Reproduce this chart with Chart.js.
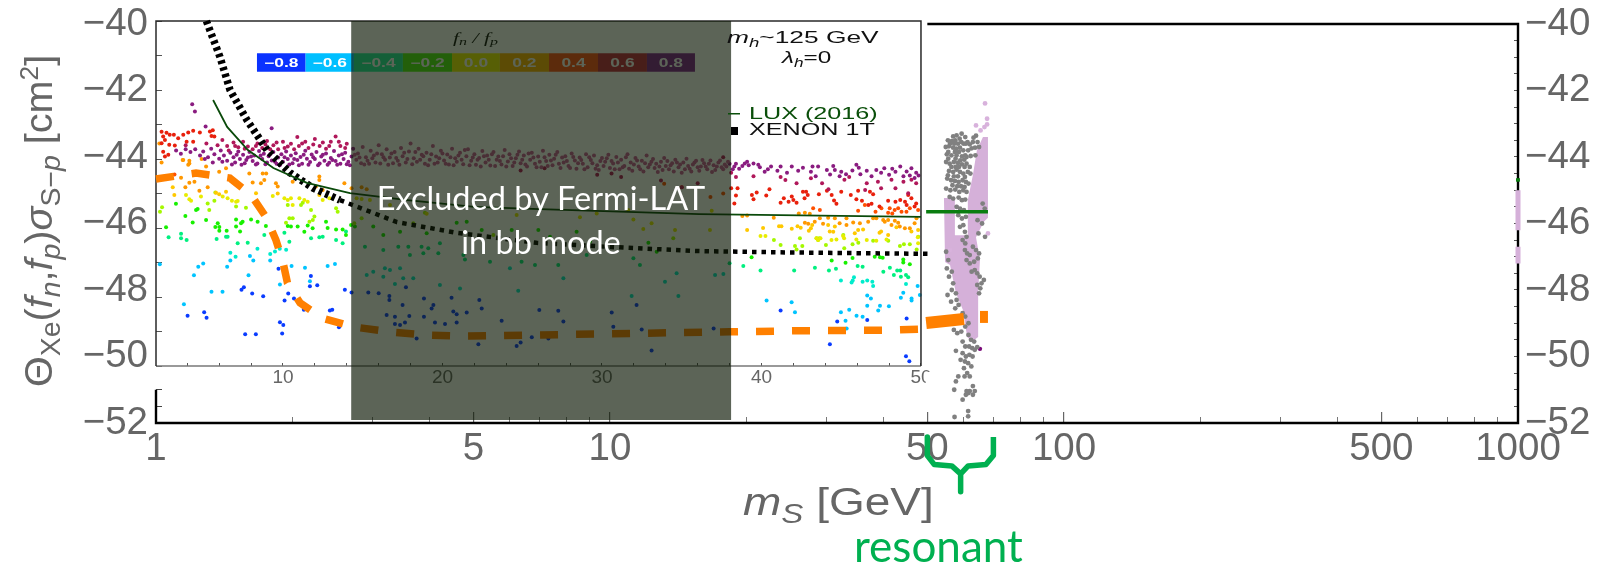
<!DOCTYPE html>
<html><head><meta charset="utf-8"><title>Direct detection limits</title>
<style>html,body{margin:0;background:#fff}canvas{display:block}</style>
<script src="https://cdn.jsdelivr.net/npm/chart.js@4"></script></head>
<body><canvas id="c" width="1597" height="567"></canvas>
<script>
// ---------- outer axis ----------
const xMajorTicks=[1,5,10,50,100,500,1000];
const xMinorTicks=[2,3,4,6,7,8,9,20,30,40,60,70,80,90,200,300,400,600,700,800,900];
const yTicksOuter=[-52,-51.5,-51,-50.5,-50,-49.5,-49,-48.5,-48,-47.5,-47,-46.5,-46,-45.5,-45,-44.5,-44,-43.5,-43,-42.5,-42,-41.5,-41,-40.5,-40];
// ---------- inset axis ----------
const xInsetTicks=[4,6,8,10,12,14,16,18,20,22,24,26,28,30,32,34,36,38,40,42,44,46,48,50];
const yInsetTicks=[-50,-49,-48,-47,-46,-45,-44,-43,-42,-41,-40];
// ---------- colour bar ----------
const barLabels=['−0.8','−0.6','−0.4','−0.2','0.0','0.2','0.4','0.6','0.8'];
const barEdges=[8.37,11.42,14.45,17.52,20.6,23.6,26.68,29.75,32.82,35.83];
const barColors=['#0a32ff','#00bfff','#20f0a0','#50f010','#f0f000','#ffb000','#ff5018','#c02840','#802090'];
const barLevel=-41.2;
// ---------- scatter (inset), flat x,y lists ----------
const purplePts=[4.31,-42.41,4.48,-42.62,5.15,-43.06,9.29,-43.11,3.3,-43.75,3.6,-43.85,3.9,-43.72,4.2,-43.8,4.5,-43.72,4.8,-43.9,5,-43.78,5.3,-43.95,5.5,-43.7,5.7,-43.86,6,-43.99,6.1,-43.75,6.3,-43.9,6.5,-44.05,6.7,-43.82,6.9,-43.95,7,-44.1,7.2,-43.78,7.3,-44,7.5,-43.88,7.6,-44.12,7.8,-43.96,7.9,-43.8,8.1,-44.06,8.2,-43.9,8.4,-44.13,8.5,-43.77,8.7,-44,8.8,-43.85,9,-44.1,9.1,-43.92,9.3,-44.04,9.4,-43.8,9.6,-44.14,9.7,-43.96,9.9,-43.86,10,-44.08,10.2,-43.78,10.3,-44,10.5,-43.9,10.6,-44.12,10.8,-43.83,10.9,-44.03,11.1,-43.94,11.2,-44.14,11.4,-43.76,11.5,-43.99,11.7,-44.09,11.8,-43.87,12,-44,12.1,-43.8,12.3,-44.13,12.4,-43.93,12.6,-44.05,12.7,-43.84,12.9,-44.11,13,-43.97,13.2,-43.77,13.3,-44.06,13.5,-43.9,13.6,-44.14,13.8,-44,13.9,-43.82,14.1,-44.08,14.3,-43.93,14.4,-43.7,14.6,-44.02,14.7,-43.84,14.9,-44.12,15,-43.65,15.2,-43.95,15.3,-44.05,15.5,-43.76,15.7,-43.9,15.8,-44.1,16,-43.6,16.2,-43.86,16.4,-44.02,16.5,-43.72,16.7,-43.96,16.9,-44.12,17,-43.8,17.2,-44.05,17.4,-43.68,17.5,-43.92,17.7,-44.1,17.9,-43.78,18,-43.55,18.2,-43.98,18.4,-44.08,18.5,-43.7,18.7,-43.88,18.9,-44.14,19,-43.82,19.2,-44.02,19.4,-43.62,19.6,-43.93,19.7,-44.1,19.9,-43.76,20.1,-44.04,20.3,-43.87,20.4,-44.16,20.6,-43.7,20.8,-43.98,20.9,-44.08,21.1,-43.82,21.3,-44.15,21.5,-43.92,21.6,-43.72,21.8,-44.05,22,-43.86,22.1,-44.17,22.3,-43.97,22.5,-43.77,22.7,-44.1,22.8,-43.9,23,-44.19,23.2,-43.8,23.4,-44.02,23.5,-43.93,23.7,-44.16,23.9,-43.74,24.1,-44.07,24.2,-43.86,24.4,-44.2,24.6,-43.98,24.8,-43.78,24.9,-44.12,25.1,-43.9,25.3,-44.22,25.5,-44.02,25.6,-43.82,25.8,-44.14,26,-43.93,26.2,-44.24,26.3,-43.76,26.5,-44.06,26.7,-43.88,26.9,-44.18,27,-43.99,27.2,-43.8,27.4,-44.26,27.6,-44.1,27.7,-43.92,27.9,-44.2,28.1,-43.84,28.3,-44.04,28.4,-44.28,28.6,-43.96,28.8,-44.14,29,-43.86,29.1,-44.24,29.3,-44.03,29.5,-43.9,29.7,-44.18,29.8,-44.32,30,-43.97,30.2,-44.08,30.4,-43.88,30.5,-44.26,30.7,-44.13,30.9,-43.94,31.1,-44.3,31.2,-44.02,31.4,-44.2,31.6,-43.86,31.8,-44.1,31.9,-44.34,32.1,-43.97,32.3,-44.22,32.5,-44.05,32.6,-44.36,32.8,-43.9,33,-44.16,33.2,-44,33.3,-44.26,33.5,-44.38,33.7,-44.08,33.9,-43.97,34,-44.2,34.2,-44.3,34.4,-44.12,34.6,-44.02,34.8,-44.24,35,-44.4,35.1,-44.1,35.3,-43.99,35.5,-44.28,35.7,-44.16,35.9,-44.05,36.1,-44.34,36.2,-44.22,36.4,-44.12,36.6,-44.3,36.8,-44.04,37,-44.18,37.1,-44.32,37.3,-44.1,37.5,-44.24,37.7,-44.16,37.9,-44.08,38.3,-44.22,38.6,-44.28,38.95,-44.13,39.2,-44.18,39.8,-44.17,40.2,-44.37,40.6,-44.22,41,-44.34,41.9,-44.22,42.3,-44.34,43.1,-44.37,43.2,-44.22,43.55,-44.22,44.1,-44.32,44.5,-44.2,44.6,-44.32,45,-44.37,45.95,-44.17,46.2,-44.44,46.6,-44.34,47.7,-44.27,48.4,-44.37,48.7,-44.22,49.4,-44.27,49.7,-44.4,49.1,-44.36,47.5,-44.4];
const purpleDense=[5.1,-44,5.6,-44.1,6.2,-44.08,6.8,-44.16,7.1,-43.88,7.4,-44.17,7.7,-44.03,8,-43.93,8.3,-44.16,8.6,-43.9,8.9,-44.15,9.2,-43.86,9.5,-44.08,9.8,-44.18,10.1,-43.95,10.4,-44.16,10.7,-44,11,-44.18,11.3,-43.88,11.6,-44.17,11.9,-43.95,12.2,-44.18,12.5,-43.88,12.8,-44.17,13.1,-44.03,13.4,-44.17,13.7,-43.86,14,-44.15,14.2,-44.18,14.5,-43.88,14.8,-43.96,15.1,-44.16,15.4,-44.14,15.6,-43.98,15.9,-43.84,16.1,-44.13,16.3,-43.95,16.6,-44.17,16.8,-43.84,17.1,-43.97,17.3,-44.17,17.6,-43.82,17.8,-44,18.1,-44.15,18.3,-43.8,18.6,-44.02,18.8,-43.92,19.1,-44.18,19.3,-43.86,19.5,-44.14,19.8,-43.98,20,-43.84,20.2,-44.14,20.5,-43.95,20.7,-44.18,21,-43.9,21.2,-44.02,21.4,-43.74,21.7,-44.18,21.9,-43.96,22.2,-44.02,22.4,-44.22,22.6,-43.92,22.9,-44.02,23.1,-43.86,23.3,-44.2,23.6,-44.06,23.8,-43.92,24,-44.22,24.3,-43.98,24.5,-44.1,24.7,-43.88,25,-44.02,25.2,-44.16,25.4,-43.84,25.7,-43.96,25.9,-44.24,26.1,-44.08,26.4,-43.95,26.6,-44.2,26.8,-44.04,27.1,-43.88,27.3,-44.14,27.5,-43.96,27.8,-44.06,28,-44.26,28.2,-43.94,28.5,-44.12,28.7,-44.03,28.9,-44.3,29.2,-43.95,29.4,-44.12,29.6,-44.28,29.9,-44.06,30.1,-44.2,30.3,-43.98,30.6,-44.06,30.8,-44.3,31,-44.1,31.3,-44.24,31.5,-43.95,31.7,-44.28,32,-44.16,32.2,-44.04,32.4,-44.3,32.7,-44.12,32.9,-44.24,33.1,-44.08,33.4,-44.14,33.6,-44.22,33.8,-44.32,34.1,-44.06,34.3,-44.18,34.5,-44.36,34.7,-44.1,34.9,-44.16,35.2,-44.3,35.4,-44.2,35.6,-44.36,35.8,-44.1,36,-44.24,36.3,-44.03,36.5,-44.22,36.7,-44.14,36.9,-44.38,37.2,-44.22,37.4,-44.04,37.6,-44.3,37.8,-44.22,38,-44.14,38.2,-44.3,38.4,-44.14,38.8,-44.2,39.1,-44.08,39.5,-44.13,39.9,-44.24,40.4,-44.3,41.2,-44.22,41.6,-44.4,42.6,-44.25,43.4,-44.5,44.3,-44.45,44.9,-44.5,45.3,-44.44,45.7,-44.33,46.1,-44.25,46.9,-44.5,47.2,-44.32,48,-44.46,48.2,-44.28,48.9,-44.5,49.3,-44.48,49.6,-44.55,49.85,-44.48];
const magentaPts=[3.9,-43.6,5.2,-43.55,5.9,-43.6,6.2,-43.45,6.5,-43.62,6.9,-43.52,7.2,-43.66,7.5,-43.5,7.8,-43.64,8.1,-43.72,8.4,-43.55,8.7,-43.68,9.0,-43.48,9.4,-43.6,9.7,-43.72,10,-43.5,10.3,-43.64,10.7,-43.72,10.9,-43.36,11.2,-43.55,11.6,-43.68,12,-43.42,12.3,-43.62,12.7,-43.7,13,-43.5,13.3,-43.35,13.6,-43.62,14,-43.56,6.6,-43.75,7,-43.62,7.6,-43.7,8.3,-43.62,8.9,-43.58,9.2,-43.72,9.6,-43.52,10.1,-43.68,10.5,-43.56,11,-43.62,11.4,-43.5,11.9,-43.58,12.5,-43.52,12.9,-43.62,13.5,-43.5,13.9,-43.68,37.6,-43.95,38.1,-44.4,38.4,-44.52,39.5,-44.5,41.5,-44.61,41.2,-44.52,42.2,-44.7,43.1,-44.56,43.8,-44.7,44.2,-44.88,45.2,-44.6,45.5,-44.52,46.6,-44.7,47.3,-44.66,48.15,-44.6,48.4,-44.85,48.9,-44.66,49.4,-44.6,49.7,-44.7,49.2,-44.99,47.5,-44.85,46.5,-44.9,31.2,-44.52,33.7,-44.62,35,-44.82,36,-44.7,24.9,-44.33,26.4,-44.27,29.7,-44.46,30.6,-44.42];
const redPts=[2.39,-43.21,2.7,-43.24,2.49,-43.35,2.9,-43.3,3.16,-43.3,2.6,-43.45,3.43,-43.4,3.75,-43.3,4.06,-43.23,4.37,-43.18,4.79,-43.23,5.42,-43.2,5.6,-43.17,5.52,-43.33,5.7,-43.35,2.39,-43.54,2.87,-43.59,3.22,-43.61,3.96,-43.5,4.37,-43.5,2.49,-43.79,2.81,-43.88,2.6,-43.93,38.1,-44.85,38.5,-44.85,38.4,-45.06,39.4,-45.04,39.7,-44.97,39.5,-45.17,38.3,-45.29,40.3,-45.06,40.5,-44.88,41.4,-45.14,41.9,-45.09,42,-45.19,41.2,-45.27,41.7,-45.24,42.2,-45.27,42.6,-44.95,42.8,-44.95,42.9,-45.04,42.7,-45.14,43.6,-45.02,44.4,-45.04,44.1,-44.92,45,-44.95,44.55,-45.2,44.7,-45.3,46.06,-44.92,45.6,-45.04,45.95,-45.17,46.3,-45.21,46.8,-44.95,47,-45.02,46.7,-45.33,46.9,-45.3,47.4,-45.38,47.94,-45.21,48.4,-45.24,48.7,-45.19,49,-45.24,49.4,-45.14,49.1,-45.33,49.7,-45.29,49.2,-45.04,49.6,-45.38];
const orangeRedPts=[43.24,-45.43,43.66,-45.48,46.06,-45.5,47.15,-45.53,47.52,-45.43,48.04,-45.43,48.35,-45.48,48.57,-45.43,48.78,-45.53,49.09,-45.53,49.3,-45.43,49.82,-45.48,47.94,-45.56,46.48,-45.33,48.2,-45.58,36.8,-45.1,35,-44.82,37.6,-45.0,3.2,-44.45,33.9,-44.72];
const orangePts=[2.25,-43.55,2.39,-44.1,3.75,-44.03,4.06,-44.17,4.13,-44.13,4.13,-44.05,3.71,-44.03,4.9,-44,5.18,-44.22,6,-44.37,6.43,-44.27,7.89,-44.42,8.73,-44.42,8.95,-44.42,8.62,-44.7,8.83,-44.61,9.56,-44.7,9.67,-44.8,5.28,-44.82,3.61,-44.54,4.13,-44.69,4.45,-44.66,4.76,-44.92,3.88,-44.82,8.1,-44.68,12.28,-44.51,12.28,-44.61,10.61,-44.66,13.85,-44.7,12.07,-44.8,12.49,-44.9,14.93,-44.82,15.25,-44.88,14.3,-44.85,38.8,-45.65,39.1,-45.64,40.77,-45.7,42.34,-45.58,42.72,-45.56,43.03,-45.59,43.66,-45.72,44.18,-45.7,44.6,-45.72,45.33,-45.72,45.75,-45.84,46.17,-45.86,46.69,-45.82,47,-45.72,47.2,-45.72,47.63,-45.77,47.73,-45.82,47.94,-45.77,48.36,-45.79,48.15,-45.91,48.57,-45.85,48.67,-45.96,48.99,-46.01,49.3,-46.01,49.72,-45.72,49.6,-45.86,42.72,-45.85,43.34,-45.82,42.93,-45.88,43.86,-45.88,44.9,-45.86,45.33,-45.91];
const amberPts=[39.1,-46.06,40.1,-46,41.1,-45.95,41.25,-45.95,41.9,-46.02,42.26,-45.95,42.46,-45.99,43.1,-46.01,42.97,-46.08,43.18,-45.91,44.18,-45.91,44.28,-46.1,44.5,-46.11,44.6,-45.96,46.06,-46.06,45.85,-46.15,46.37,-46.04,47.4,-46.14,47.5,-46.1,47.94,-46.2,48.46,-45.98,49.4,-46.1,49.82,-46.06,3.09,-44.82,3.19,-45.04,6.43,-44.95,5.8,-44.98,6,-45.02,8.31,-44.99,9.67,-45,12.28,-45.04];
const yellowPts=[4.13,-45.17,4.24,-45.21,4.86,-45.09,6.22,-45.09,6.53,-45.14,6.8,-45.21,7.06,-45.24,7.16,-45.22,9.36,-45.07,10.09,-45.14,10.3,-45.19,10.5,-45.14,10.61,-45.33,11.03,-45.14,11.34,-45.19,11.55,-45.24,12.49,-45.19,12.91,-45.14,3.92,-45.04,14.62,-45.14,14.93,-45.16,15.45,-45.19,16.71,-45.33,19.01,-45.59,24.65,-45.62,28.62,-45.69,31.97,-45.75,32.59,-46.03,34.58,-46.06,36.77,-46.06,36.88,-45.5,31.65,-45.48,33.11,-45.86,29.67,-45.58,39.94,-46.23,40.25,-46.23,43.45,-46.3,43.55,-46.35,43.7,-46.3,44.39,-46.35,44.7,-46.33,45.12,-46.23,45.18,-46.3,45.95,-46.33,46.6,-46.35,47.2,-46.37,47.84,-46.33,49.8,-46.27,49.82,-46.44];
const limePts=[2.42,-45.4,2.29,-45.53,5.28,-45.29,5.76,-44.97,5.7,-45.21,7.06,-45.38,7.68,-45.41,5.38,-45.48,10.4,-45.72,10.61,-45.72,10.19,-45.85,11.24,-45.27,11.76,-45.48,11.97,-45.67,11.87,-45.77,11.66,-45.82,13.33,-45.43,13.43,-45.53,11.13,-45.33,10.3,-45.33,14.93,-45.72,14.47,-45.86,18.17,-45.86,18.9,-45.56,23.19,-46.2,34.47,-46.3,41.2,-46.49,40.78,-46.35,42.1,-46.52,42.56,-46.52,42.2,-46.62,42.41,-46.3,44.04,-46.49,43.45,-46.3,43.55,-46.35,43.62,-46.3,45.13,-46.2,45.19,-46.59,45.71,-46.47,46.07,-46.43,47,-46.37,47.95,-46.37,48.68,-46.52,48.93,-46.47,49.3,-46.47,49.73,-46.62,49.83,-46.25];
const greenPts=[3.29,-45.3,4.55,-45.48,4.65,-45.45,3.88,-45.65,4.34,-45.84,5.18,-45.77,5.91,-45.86,5.76,-45.97,6.01,-45.97,2.67,-45.98,7.06,-45.75,7.47,-45.82,7.37,-45.86,8,-45.75,8.41,-45.82,8.93,-45.94,6.01,-46.08,6.47,-46.08,7.06,-45.96,7.31,-46.1,10.3,-45.94,10.92,-45.96,11.55,-45.93,12.7,-45.82,13.33,-46.04,13.74,-46.04,13.95,-46.2,12.8,-46,11.34,-46.11,11.86,-46.01,14.27,-45.91,10.5,-45.96,14.51,-45.96,15.66,-45.96,16.29,-46.2,17.34,-46.11,19.01,-46.15,20.89,-45.85,21.52,-45.82,22.46,-46.06,24.34,-46.06,26.01,-46.06,26.74,-46.25,28.41,-46.11,29.25,-46.4,32.91,-46.43,33.43,-46.69,39.38,-46.85,44.4,-46.94,45.27,-47.01,45.71,-46.87,47.1,-46.83,47.43,-46.85,47.6,-46.86,48.89,-46.91,48.89,-47,49.3,-47.05];
const springPts=[2.83,-46.27,3.61,-46.17,3.61,-46.3,3.96,-46.35,5.84,-46.32,6.43,-46.25,6.53,-46.25,7.16,-46.44,7.79,-46.43,8.83,-46.2,10.09,-46.14,9.36,-46.16,10.4,-46.4,9.67,-46.44,11.76,-46.3,12.28,-46.27,12.49,-46.25,13.33,-46.35,13.74,-46.44,13.95,-46.1,15.14,-46.54,16.29,-46.64,17.23,-46.54,17.86,-46.54,18.69,-46.54,19.11,-46.59,19.84,-46.44,19.74,-46.73,18.8,-46.73,17.96,-46.78,21.31,-46.78,21.41,-46.91,22.98,-46.98,24.96,-46.98,25.8,-47.07,27.26,-47.07,29.04,-46.78,31.97,-46.88,32.38,-47.07,38,-47.02,38.86,-47.1,39.94,-47.23,42.05,-47.23,43.35,-47.15,44.23,-47.23,44.67,-47.18,46.03,-47.1,46.34,-47.12,47.64,-47.27,48.05,-47.15,48.51,-47.23,48.7,-47.23,48.3,-47.36,48.74,-47.41,49.06,-47.36,49.2,-47.43];
const tealPts=[8.4,-46.6,9.2,-46.75,9.5,-46.68,9.8,-46.6,10.2,-46.63,6.7,-46.72,7.03,-46.83,15.25,-47.36,15.66,-47.27,16.39,-47.17,16.71,-47.22,17.34,-47.17,16.29,-47.41,17.54,-47.46,18.17,-47.46,17.02,-47.62,19.84,-47.65,21.1,-47.75,24.75,-47.82,27.58,-47.46,24.23,-47.17,33.95,-47.56,34.68,-47.31,37.09,-47.36,37.61,-47.33,31.86,-47.97,34.79,-47.97,44.98,-47.52,45.8,-47.43,45.72,-47.52,45.65,-47.58,46.34,-47.56,46.63,-47.52,46.95,-47.56,47,-47.68,49.06,-47.62];
const cyanPts=[2.28,-47.05,4.69,-47.12,5,-47.03,4.42,-47.37,6.5,-47.12,6.7,-46.94,7.93,-46.81,8.14,-46.94,7.84,-47.37,5.52,-47.85,6.21,-47.85,3.79,-48.21,9.2,-46.94,9.81,-47.64,11.38,-47.15,11.69,-47.54,12.8,-47.1,13.26,-47.04,10.54,-47.1,40.32,-48.1,41.89,-48.15,42.1,-48.44,44.98,-48.44,45.5,-48.37,45.96,-48.54,46.34,-48.57,45.27,-48.69,45.34,-48.91,46.63,-47.96,46.86,-48.04,46.63,-48.25,47.43,-48.25,47.99,-48.27,47.32,-48.39,48.74,-48.02,48.89,-47.88,49.41,-48.04,49.41,-48.1,49.93,-47.94,49.79,-47.68];
const bluePts=[4.02,-48.54,5.06,-48.44,5.21,-48.6,7.4,-47.79,7.55,-47.72,8.07,-47.9,8.76,-47.98,9.72,-47.18,10.33,-47.9,10.1,-48.1,10.69,-48.04,11.31,-48.37,11.69,-47.69,12.15,-47.66,11.75,-47.39,12.94,-48.39,13.09,-48.37,13.88,-47.79,9.81,-48.73,10.02,-48.81,7.63,-49.08,8.3,-49.08,9.95,-49.06,13.51,-48.88,14.3,-47.87,15.35,-47.87,16,-47.89,16.67,-47.97,16.67,-48.09,17.71,-47.72,17.5,-48.23,18.84,-48.04,20.57,-48.02,19.43,-48.23,19.32,-48.33,22.31,-48.09,22.46,-48.33,16.5,-48.52,17.02,-48.57,17.92,-48.55,18.84,-48.57,20.68,-48.42,20.89,-48.5,21.52,-48.45,26.07,-48.38,27.26,-48.4,17.02,-48.78,17.34,-48.81,17.65,-48.74,19.53,-48.74,20.16,-48.78,20.89,-48.74,23.71,-48.69,27.58,-48.71,30.61,-48.45,30.71,-48.86,32.17,-48.23,32.49,-48.94,18.38,-49.2,24.23,-49.12,26.64,-49.2,22.25,-49.37,24.9,-49.32,24.65,-49.42,33.11,-49.55,37,-48.91,25.6,-49.17,41.2,-48.39,44.75,-48.71,46.63,-48.67,49.1,-48.62,44.29,-49.37,49.06,-49.72,49.27,-49.86];
// ---------- curves (inset) ----------
const xenonSteep=[5.2,-40,6.05,-41.04,6.68,-42,7.74,-42.87,9,-43.74,10.44,-44.4,11.88,-44.84,13.57,-45.19];
const xenonFlat=[13.57,-45.19,17.15,-45.83,20.9,-46.14,25.9,-46.43,30.56,-46.55,36.1,-46.67,42,-46.71,50.5,-46.75];
const luxLimit=[5.62,-42.29,6.5,-43.07,7.8,-43.74,9.4,-44.26,11.5,-44.69,14.2,-44.99,17.8,-45.19,22,-45.39,26.1,-45.45,36.1,-45.6,50,-45.68];
const orangeInset=[2.04,-44.58,4.55,-44.41,6.67,-44.55,8,-45.04,8.93,-45.68,9.56,-46.35,10,-46.99,10.28,-47.59,11.07,-48.17,12.45,-48.61,14.45,-48.87,16.7,-49.01,18.96,-49.1,21.16,-49.13,23.4,-49.12,36.5,-49.02,38,-49.01,42,-48.98,48,-48.96,50.2,-48.93];
// ---------- frames ----------
const insetFrame=[2.04,-50,2.04,-40,50,-40,50,-50];
const insetBase=[2.04,-50,50,-50];
const outerFrame=[50,-40,1000,-40,1000,-52,1,-52,1,-51];
const excludedBox=[2.69,18.5,-39.91,-51.91];
// ---------- resonant region (outer axes) ----------
const greyPts=[57,-43.38,58,-43.35,59.5,-43.3,60.6,-43.4,63.2,-43.42,64,-43.36,55.5,-43.5,56.6,-43.52,57.6,-43.5,58.4,-43.6,59.4,-43.55,60.8,-43.6,62,-43.62,63,-43.55,64.5,-43.55,54.9,-43.7,55.8,-43.68,57,-43.72,57.9,-43.75,59,-43.72,60,-43.8,61.5,-43.8,62.6,-43.74,63.7,-43.72,65,-43.7,55.2,-43.92,56.5,-43.95,58,-43.95,59.6,-43.98,61,-44,62.3,-43.97,63.8,-43.95,55,-44.15,56,-44.2,57.2,-44.15,58.4,-44.18,59.6,-44.22,61,-44.2,62,-44.3,55.8,-44.42,57,-44.45,58,-44.38,59,-44.45,60,-44.5,61.4,-44.45,62.2,-44.5,55.3,-44.65,56.4,-44.7,57.5,-44.72,58.6,-44.75,59.8,-44.7,60.8,-44.75,61.6,-44.8,55,-44.95,56.2,-45,57.6,-44.98,58.8,-45.05,60,-45,61,-45.05,56,-45.2,57,-45.25,58.6,-45.22,59.6,-45.3,60.6,-45.28,56.1,-43.6,57.3,-43.6,58.9,-43.45,60.1,-43.6,61.3,-43.55,55.6,-43.85,57.5,-43.85,58.7,-43.85,60.6,-43.95,55.6,-44.05,57.7,-44.05,59.1,-44.1,60.3,-44.08,56.5,-44.3,57.7,-44.3,58.7,-44.3,60.4,-44.3,55.5,-44.55,57.2,-44.58,58.4,-44.58,60.5,-44.6,56.8,-44.85,58.2,-44.88,59.3,-44.88,60.4,-44.9,58,-45.5,59,-45.55,60.2,-45.6,66.2,-45.4,66.9,-45.55,58.5,-45.75,59.6,-45.85,60.8,-45.8,64.5,-45.9,66,-46,59,-46.1,60,-46.05,60.5,-46.25,61,-46.4,59.8,-46.5,60.6,-46.6,64.8,-46.3,67,-46.4,60.5,-46.8,61.2,-46.9,62,-46.95,63,-46.7,64,-46.8,65,-46.9,55,-46.85,55.6,-47.1,61,-47.1,62,-47.2,63.4,-47.15,64.6,-47.05,55.2,-47.35,55.8,-47.6,56.6,-47.45,57,-47.8,62.6,-47.45,63.6,-47.4,64.4,-47.5,65.2,-47.6,56.6,-48,57.8,-48.1,58,-48.3,58.6,-48.45,56.4,-48.35,55.4,-48.15,57.6,-48.55,64.4,-47.85,65.8,-47.8,66.6,-47.7,65.4,-47.95,65,-48.1,59.8,-48.7,60.6,-48.8,57.2,-49.2,58.2,-49.3,59.4,-49.25,60.6,-49.1,61.6,-49,61.6,-49.35,62.4,-49.5,63.4,-49.55,59.8,-49.55,60.6,-49.7,61.8,-49.7,62.8,-49.75,63.6,-49.8,64.4,-49.72,57.8,-49.83,59.8,-49.9,60.8,-50,61.9,-49.95,62.9,-50,59.2,-50.1,60.5,-50.15,61.5,-50.2,62.5,-50.3,60.2,-50.35,61.2,-50.5,62,-50.6,60.4,-50.6,58.5,-50.6,57.8,-50.75,63,-50.89,61,-51.04,62,-51.04,63.6,-51.04,57.3,-51,60.8,-51.15,61.6,-51.1,63,-51.15,59.8,-51.3,61.5,-51.64,61.5,-51.8,57.4,-51.82];
const pinkDots=[67,-42.39,67.7,-42.85,64,-43.05,65.5,-43.2,66.8,-43.1,67.7,-43.02,56,-46.8,58,-45.5,68,-46.3];
const stragglerPt=[65.3,-49.77];
const pinkShape=[68,-43.4,66.3,-43.4,64.3,-43.79,63,-44.54,61.4,-45.29,61.4,-46.35,57.5,-46.35,57.5,-45.23,54.4,-45.23,54.7,-47.16,56.1,-47.25,57.8,-48.09,59.9,-48.6,61.2,-49.41,62.7,-49.56,64.7,-49.41,64.7,-48.09,65.3,-47.1,64,-46.41,66.6,-45.95,68,-45.83];
const pinkEdgeA=[1000,-45,1000,-46.2];
const pinkEdgeB=[1000,-46.7,1000,-47.2];
const orangeOuterA=[49.7,-48.99,60.2,-48.87];
const orangeOuterB=[65.3,-48.81,68,-48.81];
const luxOuter=[49.7,-45.65,68,-45.65];
const luxEdge=[990,-44.69,1010,-44.69];
const bracket=[50,-52.42,50,-52.98,51.8,-53.25,56.6,-53.29,59.2,-53.53,59.2,-54.07,59.2,-53.53,61.5,-53.29,67.3,-53.25,69.9,-52.98,69.9,-52.42];
const labelMask=[50.3,-50.49,51.5,-50.49];

const pairs=a=>{const r=[];for(let i=0;i<a.length;i+=2)r.push({x:a[i],y:a[i+1]});return r;};
const dots=(label,a,color,order,r=2,axes=['xIn','yIn'])=>({label,data:pairs(a),xAxisID:axes[0],yAxisID:axes[1],backgroundColor:color,borderWidth:0,pointRadius:r,showLine:false,order,clip:false});
const line=(label,a,color,w,order,axes=['xIn','yIn'],extra={})=>Object.assign({label,data:pairs(a),xAxisID:axes[0],yAxisID:axes[1],borderColor:color,borderWidth:w,pointRadius:0,showLine:true,borderCapStyle:'butt',order,clip:false,fill:false},extra);
const OUT=['x','y'];
const bandColor=c=>(c.raw&&c.raw.x>14.45&&c.raw.x<38)?'#c85a98':'#8a1c80';

const datasets=[
 line('resonant bracket',bracket,'#00b050',5.5,1,OUT,{borderJoinStyle:'round',tension:0}),
 line('LUX resonant',luxOuter,'#0a7d10',3.5,2,OUT),
 line('LUX edge',luxEdge,'#0a7d10',3.5,2,OUT),
 line('orange a',orangeOuterA,'#ff8000',12,3,OUT),
 line('orange b',orangeOuterB,'#ff8000',12,3,OUT),
 dots('relic grey',greyPts,'#808080',4,2.4,OUT),
 dots('straggler',stragglerPt,'#7a0a78',4,2.2,OUT),
 dots('pink dots',pinkDots,'#d8b2dc',5,2.4,OUT),
 line('pink band',pinkShape,'#d5b0d9',0,6,OUT,{fill:'shape',backgroundColor:'#d5b0d9'}),
 line('pink edge a',pinkEdgeA,'#d5b0d9',5,6,OUT),
 line('pink edge b',pinkEdgeB,'#d5b0d9',5,6,OUT),
 line('Fermi-LAT',[excludedBox[0],excludedBox[2],excludedBox[1],excludedBox[2]],'rgba(0,0,0,0)',0,10,OUT,{fill:{value:excludedBox[3]},backgroundColor:'rgba(15,27,8,.68)'}),
 line('XENON steep',xenonSteep,'#000',7.5,20,undefined,{borderDash:[3.5,3.5]}),
 line('XENON flat',xenonFlat,'#000',4.5,20,undefined,{borderDash:[4.5,5]}),
 line('LUX (2016)',luxLimit,'#0a4a0a',1.8,19),
 line('orange',orangeInset,'#ff8000',7.5,21,undefined,{borderDash:[18,18]}),
 line('inset frame',insetFrame,'#2a2a2a',1.5,24),
 line('inset base',insetBase,'#777',1.3,24),
 line('outer frame',outerFrame,'#000',2.4,24,OUT),
 line('name mask',labelMask,'#fff',22,25),
 dots('0.8',purplePts,bandColor,30),
 dots('0.8 core',purpleDense,bandColor,30),
 dots('0.6',magentaPts,'#b0185a',31),
 dots('0.4',redPts,'#e8200c',32),
 dots('0.3',orangeRedPts,'#ff5000',33),
 dots('0.2',orangePts,'#ff9800',34),
 dots('0.1',amberPts,'#ffc800',35),
 dots('0.0',yellowPts,'#e8ec00',36),
 dots('-0.1',limePts,'#a4f800',37),
 dots('-0.2',greenPts,'#18f000',38),
 dots('-0.3',springPts,'#00f080',39),
 dots('-0.4',tealPts,'#00eccc',40),
 dots('-0.6',cyanPts,'#00c4ff',41),
 dots('-0.8',bluePts,'#0a3cff',42),
];
barColors.forEach((c,i)=>datasets.push(line('bar'+i,[barEdges[i],barLevel,barEdges[i+1],barLevel],c,18.5,50+(9-i))));

const runs=(ctx,x,y,items,o={})=>{
  ctx.save();ctx.translate(x,y);if(o.rot)ctx.rotate(o.rot);ctx.scale(o.sx||1,1);
  ctx.textBaseline='alphabetic';ctx.textAlign='left';let p=0;
  for(const r of items){ctx.font=r.f;ctx.fillStyle=r.c||o.c||'#000';ctx.fillText(r.t,p,r.dy||0);p+=ctx.measureText(r.t).width;}
  ctx.restore();
};
const F=(s,i)=>`${i?'italic ':''}${s}px 'Liberation Sans'`;
const textPlugin={id:'texts',
 afterDatasetDraw(chart,args){
  if(chart.data.datasets[args.index].label!=='bar8')return;
  const ctx=chart.ctx,sx=chart.scales.xIn;
  barLabels.forEach((t,i)=>{
    const cx=sx.getPixelForValue((barEdges[i]+barEdges[i+1])/2);
    ctx.save();ctx.translate(cx,67);ctx.scale(1.45,1);ctx.font="bold 12px 'Liberation Sans'";ctx.fillStyle='#fff';ctx.textAlign='center';ctx.fillText(t,0,0);ctx.restore();
  });
  runs(ctx,453,43,[{t:'f',f:"italic 15px 'Liberation Serif'"},{t:'n',f:"italic 11px 'Liberation Serif'",dy:2},{t:' / ',f:"italic 15px 'Liberation Serif'"},{t:'f',f:"italic 15px 'Liberation Serif'"},{t:'p',f:"italic 11px 'Liberation Serif'",dy:2}],{c:'#111',sx:1.45});
 },
 afterDatasetsDraw(chart){
  const ctx=chart.ctx;
  ctx.save();ctx.fillStyle='#fff';ctx.textAlign='center';ctx.font="32.5px Lato";ctx.textBaseline='alphabetic';
  ctx.fillText('Excluded by Fermi-LAT',541,210);ctx.fillText('in bb mode',541,254);ctx.restore();
  runs(ctx,727,43,[{t:'m',f:F(17,1)},{t:'h',f:F(12,1),dy:4},{t:'~125 GeV',f:F(17)}],{sx:1.55,c:'#111'});
  runs(ctx,782,63,[{t:'λ',f:F(17,1)},{t:'h',f:F(12,1),dy:4},{t:'=0',f:F(17)}],{sx:1.43,c:'#111'});
  runs(ctx,749,119,[{t:'LUX (2016)',f:F(17)}],{sx:1.48,c:'#0a4f0a'});
  runs(ctx,749,135,[{t:'XENON 1T',f:F(17)}],{sx:1.48,c:'#111'});
  ctx.fillStyle='#0a4f0a';ctx.fillRect(728,113,12,1.5);
  ctx.fillStyle='#000';ctx.fillRect(731,127,7,8);
  // axis titles
  runs(ctx,52,387,[{t:'Θ',f:F(39)},{t:'Xe',f:F(28),dy:8},{t:'(',f:F(39)},{t:'f',f:F(39,1)},{t:'n',f:F(28,1),dy:8},{t:',',f:F(39)},{t:'f',f:F(39,1)},{t:'p',f:F(28,1),dy:8},{t:')',f:F(39)},{t:'σ',f:F(39,1)},{t:'S−',f:F(28),dy:8},{t:'p',f:F(28,1),dy:8},{t:' [cm',f:F(39)},{t:'2',f:F(26),dy:-14},{t:']',f:F(39)}],{rot:-Math.PI/2,c:'#666',sx:1.015});
  runs(ctx,743,515,[{t:'m',f:F(39,1)},{t:'S',f:F(28,1),dy:8},{t:' [GeV]',f:F(39)}],{c:'#666',sx:1.18});
  ctx.save();ctx.fillStyle='#00b050';ctx.font="44px Lato";ctx.textAlign='left';ctx.fillText('resonant',854,562);ctx.restore();
 }
};
const fixX=h=>s=>{s.height=h;s.paddingLeft=0;s.paddingRight=0;};
const fixY=w=>s=>{s.width=w;s.paddingTop=0;s.paddingBottom=0;};
const setTicks=a=>s=>{s.ticks=a.map(v=>({value:v}));};
const base={border:{display:false},grid:{drawOnChartArea:false,color:'#555',lineWidth:1}};
const axisFont={family:'Liberation Sans',size:38.5};
new Chart(document.getElementById('c'),{
 type:'scatter',
 data:{datasets},
 plugins:[textPlugin],
 options:{responsive:false,animation:false,events:[],
  layout:{padding:{top:21,left:0,right:0,bottom:0}},
  plugins:{legend:{display:false},tooltip:{enabled:false}},
  scales:{
   x:{type:'logarithmic',axis:'x',position:'bottom',min:1,max:1000,...base,grid:{...base.grid,tickLength:-11,lineWidth:1.2,color:'#666'},
      afterBuildTicks:setTicks(xMajorTicks),afterFit:fixX(144),
      ticks:{autoSkip:false,maxRotation:0,padding:14,color:'#666',font:axisFont,callback:v=>String(v)}},
   xMinor:{type:'logarithmic',axis:'x',position:{y:-52},min:1,max:1000,...base,grid:{...base.grid,tickLength:-6,color:'#777'},
      afterBuildTicks:setTicks(xMinorTicks),afterFit:fixX(0),ticks:{display:false,autoSkip:false}},
   y:{type:'linear',axis:'y',position:'left',min:-52,max:-39.91,...base,grid:{...base.grid,tickLength:-6,color:s=>(s.tick&&s.tick.value<=-51?'#444':'rgba(0,0,0,0)')},
      afterBuildTicks:setTicks(yTicksOuter),afterFit:fixY(156),
      ticks:{autoSkip:false,padding:14,color:'#666',font:axisFont,callback:v=>Number.isInteger(v)&&v%2===0?'−'+Math.abs(v):''}},
   yR:{type:'linear',axis:'y',position:'right',min:-52,max:-39.91,...base,grid:{...base.grid,tickLength:-4,color:'#555'},
      afterBuildTicks:setTicks(yTicksOuter),afterFit:fixY(79),
      ticks:{autoSkip:false,padding:11,color:'#666',font:axisFont,callback:v=>Number.isInteger(v)&&v%2===0?'−'+Math.abs(v):''}},
   xIn:{type:'linear',axis:'x',position:{yIn:-50},min:2.04,max:87.43,...base,grid:{...base.grid,tickLength:-3,color:'#555'},
      afterBuildTicks:setTicks(xInsetTicks),afterFit:fixX(0),
      ticks:{autoSkip:false,maxRotation:0,padding:3,color:'#666',font:{family:'Liberation Sans',size:19},callback:v=>v%10===0?String(v):''}},
   yIn:{type:'linear',axis:'y',position:{xIn:2.04},min:-51.652,max:-40,...base,grid:{...base.grid,tickLength:-6,color:'#555'},
      afterBuildTicks:setTicks(yInsetTicks),afterFit:fixY(0),ticks:{display:false,autoSkip:false}}
  }
 }
});
</script></body></html>
